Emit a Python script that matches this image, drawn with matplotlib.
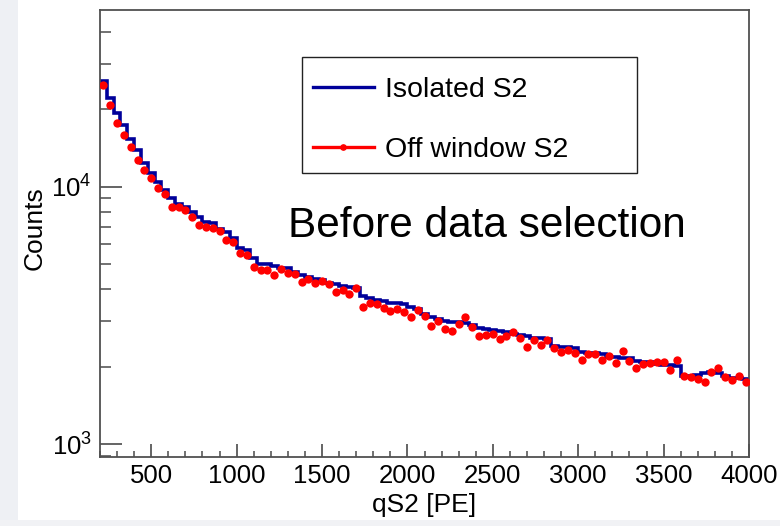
import numpy as np
import matplotlib
matplotlib.use("Agg")
import matplotlib.pyplot as plt
from matplotlib.ticker import LogLocator, NullFormatter, MultipleLocator, FixedLocator
from matplotlib.lines import Line2D
from matplotlib.patches import Rectangle

plt.rcParams['font.family'] = ['Liberation Sans', 'DejaVu Sans']

# histogram binning (qS2 [PE])
bin_edges = list(range(200, 4001, 40))
bin_centers = [e + 20 for e in bin_edges[:-1]]

# Isolated S2 (blue histogram), counts per bin
isolated_s2 = [
    25600, 22000, 19400, 17400, 15300, 13900, 12400, 11300, 10400, 9710,
    9040, 8570, 8340, 7980, 7630, 7300, 7250, 6850, 6670, 6320,
    5780, 5680, 5290, 5010, 4990, 4920, 4840, 4840, 4670, 4540,
    4460, 4380, 4340, 4230, 4190, 4120, 4080, 4040, 3760, 3700,
    3630, 3600, 3540, 3540, 3500, 3410, 3350, 3200, 3120, 3060,
    3010, 2980, 2980, 2960, 2900, 2830, 2800, 2770, 2750, 2730,
    2680, 2650, 2630, 2590, 2590, 2560, 2410, 2390, 2390, 2370,
    2280, 2260, 2260, 2240, 2180, 2180, 2160, 2160, 2110, 2090,
    2090, 2050, 2040, 2030, 2010, 1840, 1830, 1850, 1890, 1910,
    1890, 1840, 1810, 1810, 1800,
]

# Off window S2 (red points), counts per bin
off_window_s2 = [
    24800, 20800, 17700, 15900, 14300, 12700, 11600, 10800, 9860, 9340,
    8320, 8350, 8120, 7650, 7100, 6980, 6900, 6730, 6210, 6080,
    5510, 5430, 4890, 4750, 4740, 4540, 4790, 4610, 4600, 4280,
    4370, 4220, 4310, 4180, 3890, 3970, 3830, 4030, 3420, 3530,
    3520, 3370, 3290, 3340, 3270, 3130, 3320, 3150, 2880, 3010,
    2800, 2750, 2920, 3110, 2860, 2640, 2660, 2680, 2560, 2640,
    2720, 2580, 2390, 2540, 2420, 2540, 2360, 2290, 2320, 2260,
    2120, 2240, 2250, 2120, 2200, 2070, 2300, 2100, 1980, 2050,
    2070, 2090, 2080, 1940, 2130, 1840, 1830, 1790, 1750, 1910,
    1980, 1830, 1770, 1840, 1740,
]

x_ticks = [500, 1000, 1500, 2000, 2500, 3000, 3500, 4000]

W, H = 780, 526
fig = plt.figure(figsize=(W / 100, H / 100), dpi=100)
fig.patch.set_facecolor('white')
# slide background strips
fig.patches.append(Rectangle((0, 0), 18 / W, 1, transform=fig.transFigure,
                             facecolor='#eef0f4', edgecolor='none', zorder=0))
fig.patches.append(Rectangle((0, 0), 1, 6 / H, transform=fig.transFigure,
                             facecolor='#f1f2f5', edgecolor='none', zorder=0))

ax = fig.add_axes([100 / W, (H - 457) / H, 649 / W, 447 / H])
ax.set_facecolor('white')

blue = '#00009a'
red = '#ff0000'

ax.stairs(isolated_s2, bin_edges, color=blue, linewidth=2.6, baseline=None, zorder=2)
ax.plot(bin_centers, off_window_s2, linestyle='none', marker='o', markersize=6.0,
        color=red, markeredgewidth=0, zorder=3)

ax.set_yscale('log')
ax.set_xlim(200, 4000)
ax.set_ylim(893, 48500)

ax.xaxis.set_major_locator(FixedLocator(x_ticks))
ax.xaxis.set_minor_locator(MultipleLocator(100))
ax.yaxis.set_major_locator(LogLocator(base=10))
ax.yaxis.set_minor_locator(LogLocator(base=10, subs=np.arange(2, 10)))
ax.yaxis.set_minor_formatter(NullFormatter())

tick_col = '#4a4a4a'
ax.tick_params(axis='x', which='major', direction='in', length=9.4, width=1.2,
               color=tick_col, labelsize=18.5, pad=5, top=False)
ax.tick_params(axis='x', which='minor', direction='in', length=4.2, width=1.1,
               color=tick_col, top=False)
ax.tick_params(axis='y', which='major', direction='in', length=15.5, width=1.2,
               color=tick_col, labelsize=18.5, pad=6, right=False)
ax.tick_params(axis='y', which='minor', direction='in', length=8, width=1.1,
               color=tick_col, right=False)

for s in ax.spines.values():
    s.set_color('#505050')
    s.set_linewidth(1.3)

ax.set_xlabel('qS2 [PE]', fontsize=19)
ax.xaxis.set_label_coords(0.5, -0.08)
ax.set_ylabel('Counts', fontsize=19)
ax.yaxis.set_label_coords(-0.083, 0.512)

# legend frame (drawn separately for exact placement)
ax.add_patch(Rectangle(((301.7 - 100) / 649, (457 - 173.3) / 447),
                       (636.7 - 301.7) / 649, (173.3 - 56.7) / 447,
                       transform=ax.transAxes, facecolor='white',
                       edgecolor='#222222', linewidth=1.0, zorder=4))

handles = [Line2D([], [], color=blue, linewidth=2.4),
           Line2D([], [], color=red, linewidth=2.4, marker='o', markersize=3.8)]
leg = ax.legend(handles, ['Isolated S2', 'Off window S2'],
                loc='upper left', bbox_to_anchor=((300 - 100) / 649, (457 - 64) / 447),
                borderaxespad=0, fontsize=20.5, frameon=False,
                handlelength=2.15, handletextpad=0.4, labelspacing=1.2,
                borderpad=0.45)
leg.set_zorder(5)

ax.text((288 - 100) / 649, (457 - 237) / 447, 'Before data selection',
        transform=ax.transAxes, fontsize=30.5, va='baseline', ha='left', color='black')

fig.savefig('out.png', dpi=100, facecolor=fig.get_facecolor())
